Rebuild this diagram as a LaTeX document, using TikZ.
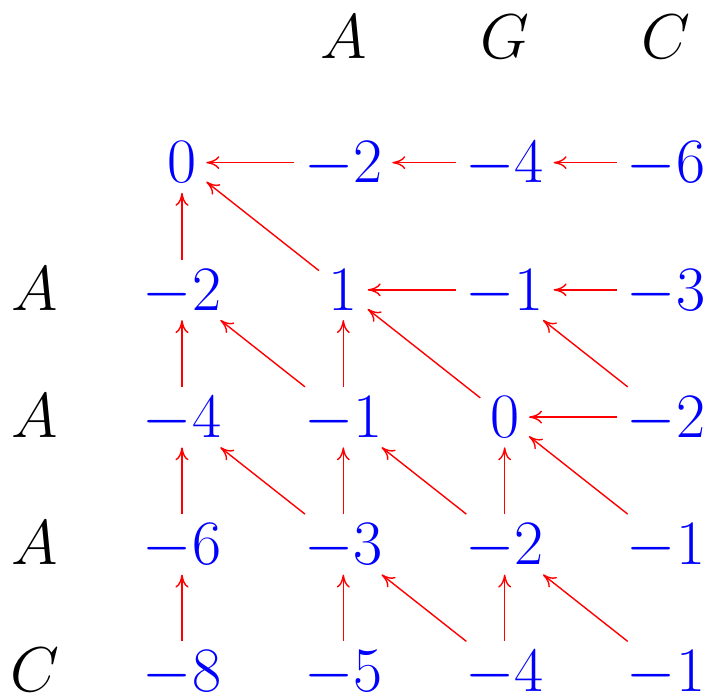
\documentclass[tikz,border=0pt]{standalone}
\usepackage{fix-cm}
\usepackage{xcolor}
\usetikzlibrary{arrows.meta}

\tikzset{
  score/.style={blue, anchor=base, inner sep=0.19cm, text depth=0pt,
    font=\fontsize{36}{43}\selectfont},
  seqlabel/.style={black, anchor=base, inner sep=0pt,
    font=\fontsize{36}{43}\selectfont},
  trace/.style={red, line width=0.8pt, -{To[length=2.6mm,width=2.6mm]}},
}

\begin{document}
\begin{tikzpicture}
\useasboundingbox (0,0) rectangle (14.2,14);
% sequences
\node[seqlabel] (top1) at (6.867,12.82) {$A$};
\node[seqlabel] (top2) at (10.093,12.82) {$G$};
\node[seqlabel] (top3) at (13.32,12.82) {$C$};
\node[seqlabel] (left1) at (0.70,7.795) {$A$};
\node[seqlabel] (left2) at (0.70,5.25) {$A$};
\node[seqlabel] (left3) at (0.70,2.705) {$A$};
\node[seqlabel] (left4) at (0.70,0.16) {$C$};
% score matrix
\foreach \r/\vals in {0/{0,-2,-4,-6}, 1/{-2,1,-1,-3}, 2/{-4,-1,0,-2},
                      3/{-6,-3,-2,-1}, 4/{-8,-5,-4,-1}}{
  \foreach \v [count=\c from 0] in \vals
    \node[score] (s\r\c) at (3.64+3.2267*\c, 10.34-2.545*\r) {$\v$};
}
% traceback pointers
\foreach \a/\b in {s01/s00, s02/s01, s03/s02,
                   s10/s00, s11/s00, s12/s11, s13/s12,
                   s20/s10, s21/s10, s21/s11, s22/s11, s23/s22, s23/s12,
                   s30/s20, s31/s20, s31/s21, s32/s21, s32/s22, s33/s22,
                   s40/s30, s41/s31, s42/s31, s42/s32, s43/s32}
  \draw[trace] (\a) -- (\b);
\end{tikzpicture}
\end{document}
